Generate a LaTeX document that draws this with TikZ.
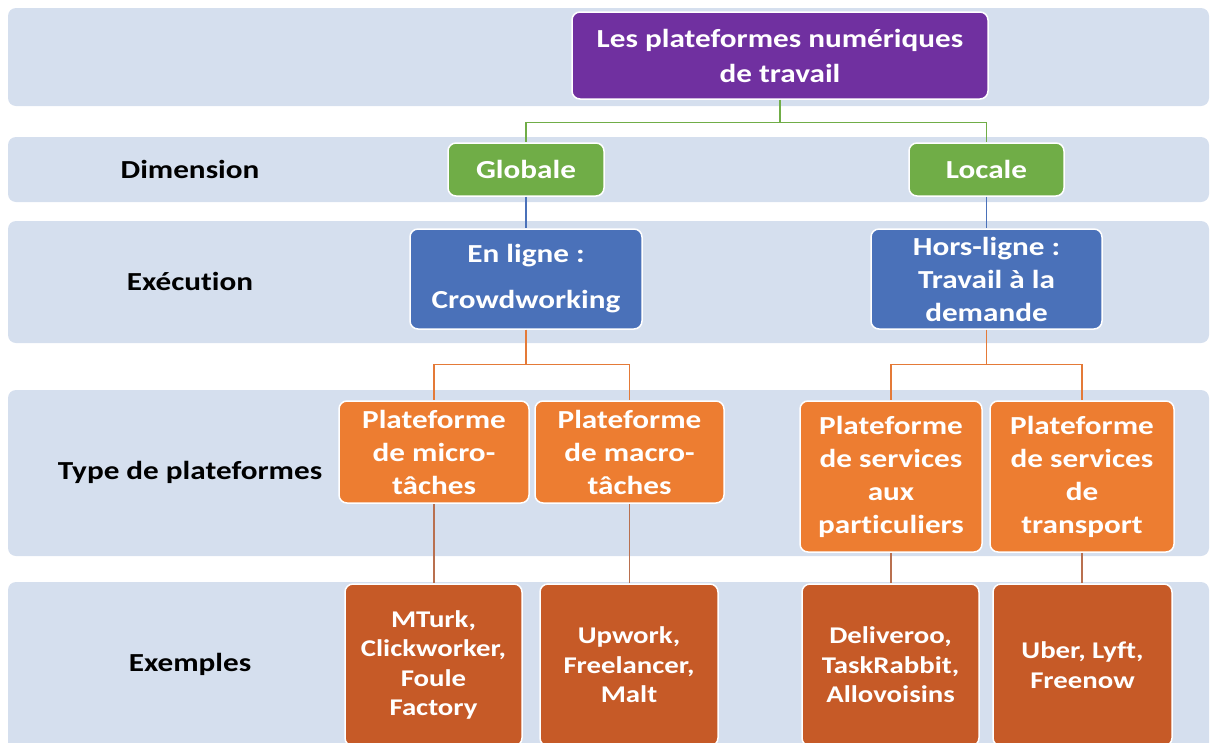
\documentclass[tikz,border=0pt]{standalone}
\usepackage{fontspec}
\setmainfont{Carlito}[FakeStretch=1.2, Ligatures=NoCommon]
\definecolor{band}{HTML}{D5DFEE}
\definecolor{purp}{HTML}{7030A0}
\definecolor{grn}{HTML}{70AD47}
\definecolor{blu}{HTML}{4A71B9}
\definecolor{org}{HTML}{ED7D31}
\definecolor{dorg}{HTML}{C65A27}
\definecolor{lnorg}{HTML}{E47A38}
\definecolor{lnbrn}{HTML}{B9704F}
\tikzset{
  boxbase/.style={draw=white, line width=1.5pt, rounded corners=8pt, text=white, align=center, inner sep=0pt,
    font=\bfseries\fontsize{26}{33}\selectfont},
  purpbox/.style={boxbase, fill=purp, font=\bfseries\fontsize{26}{35}\selectfont},
  grnbox/.style={boxbase, fill=grn},
  blubox/.style={boxbase, fill=blu},
  orgbox/.style={boxbase, fill=org},
  dorgbox/.style={boxbase, fill=dorg, font=\bfseries\fontsize{24}{29.5}\selectfont},
  rowlabel/.style={text=black, font=\bfseries\fontsize{26}{33}\selectfont},
  bandfill/.style={fill=band, rounded corners=8pt},
  grnline/.style={draw=grn, line width=1.3pt},
  bluline/.style={draw=blu, line width=1.3pt},
  orgline/.style={draw=lnorg, line width=1.3pt},
  brnline/.style={draw=lnbrn, line width=1.3pt}
}
\begin{document}
\begin{tikzpicture}[x=1pt,y=-1pt]
\useasboundingbox (0,0) rectangle (1210,742);
\begin{scope}
\clip (0,0) rectangle (1210,742);
% bands
\fill[bandfill] (8,8) rectangle (1209,106);
\fill[bandfill] (8,137) rectangle (1209,202);
\fill[bandfill] (8,221) rectangle (1209,343);
\fill[bandfill] (8,390) rectangle (1209,556);
\fill[bandfill] (8,582) rectangle (1209,760);

% row labels
\node[rowlabel] (lDim) at (190,169) {Dimension};
\node[rowlabel] (lExe) at (190,281) {Exécution};
\node[rowlabel] (lType) at (190,472) {Type de plateformes};
\node[rowlabel] (lEx) at (190,664) {Exemples};

% boxes
\node[purpbox, minimum width=416pt, minimum height=87pt] (top) at (780,55.5) {Les plateformes numériques\\de travail};
\node[grnbox, minimum width=156pt, minimum height=53pt] (glob) at (526,169.5) {Globale};
\node[grnbox, minimum width=155pt, minimum height=53pt] (loc) at (986.5,169.5) {Locale};
\node[blubox, minimum width=232pt, minimum height=100pt, font=\bfseries\fontsize{26}{46}\selectfont] (enl) at (526,279) {En ligne :\\Crowdworking};
\node[blubox, minimum width=231pt, minimum height=100pt] (hors) at (986.5,279) {Hors-ligne :\\Travail à la\\demande};

\node[orgbox, minimum width=190pt, minimum height=102pt] (micro) at (434,452) {Plateforme\\de micro-\\tâches};
\node[orgbox, minimum width=189pt, minimum height=102pt] (macro) at (629.5,452) {Plateforme\\de macro-\\tâches};
\node[orgbox, minimum width=182pt, minimum height=151pt] (serv) at (891,476.5) {Plateforme\\de services\\aux\\particuliers};
\node[orgbox, minimum width=184pt, minimum height=151pt] (trans) at (1082,476.5) {Plateforme\\de services\\de\\transport};

\node[dorgbox, minimum width=177pt, minimum height=162pt] (mturk) at (433.5,665) {MTurk,\\Clickworker,\\Foule\\Factory};
\node[dorgbox, minimum width=178pt, minimum height=162pt] (upw) at (629,665) {Upwork,\\Freelancer,\\Malt};
\node[dorgbox, minimum width=177pt, minimum height=162pt] (deliv) at (890.5,665) {Deliveroo,\\TaskRabbit,\\Allovoisins};
\node[dorgbox, minimum width=179pt, minimum height=162pt] (uber) at (1082.5,665) {Uber, Lyft,\\Freenow};

% connectors
\draw[grnline] (top.south) -- ++(0,23) -| (glob.north);
\draw[grnline] (top.south) -- ++(0,23) -| (loc.north);
\draw[bluline] (glob.south) -- (enl.north);
\draw[bluline] (loc.south) -- (hors.north);
\draw[orgline] (enl.south) -- ++(0,35) -| (micro.north);
\draw[orgline] (enl.south) -- ++(0,35) -| (macro.north);
\draw[orgline] (hors.south) -- ++(0,35) -| (serv.north);
\draw[orgline] (hors.south) -- ++(0,35) -| (trans.north);
\draw[brnline] (micro.south) -- (micro.south |- mturk.north);
\draw[brnline] (macro.south) -- (macro.south |- upw.north);
\draw[brnline] (serv.south) -- (serv.south |- deliv.north);
\draw[brnline] (trans.south) -- (trans.south |- uber.north);
\end{scope}
\end{tikzpicture}
\end{document}
